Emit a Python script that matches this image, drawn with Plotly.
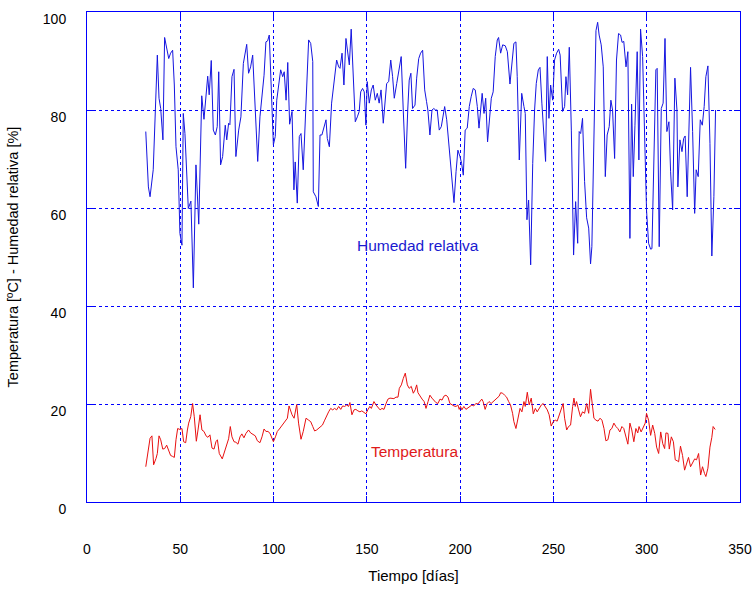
import plotly.graph_objects as go

# Relative humidity (%) vs day
hum_day = [31.5, 32.9, 33.8, 35.5, 37.7, 38.6, 39.5, 40.7, 41.6, 42.7, 43.8, 44.8, 45.9, 46.8, 47.7, 48.9, 49.8, 50.9,
           51.6, 52.5, 54.3, 55.7, 57.0, 58.4, 59.9, 61.5, 62.7, 64.7, 65.5, 66.6, 67.7, 68.8, 69.8, 70.6, 71.6, 72.7,
           74.1, 74.9, 75.9, 76.6, 77.7, 78.8, 79.8, 81.3, 82.5, 83.8, 85.6, 86.6, 87.7, 88.8, 89.9, 91.5, 92.7, 93.8,
           94.9, 95.9, 96.8, 97.7, 99.0, 99.9, 100.9, 101.7, 103.8, 104.9, 105.7, 106.7, 107.6, 108.6, 109.9, 110.9,
           111.6, 112.7, 113.8, 114.7, 115.9, 117.4, 118.8, 119.9, 121.0, 121.3, 122.7, 124.0, 124.9, 125.9, 126.6,
           128.1, 128.8, 129.9, 131.1, 132.4, 133.8, 134.9, 135.6, 136.7, 137.7, 138.8, 139.9, 140.6, 141.6, 142.7,
           143.8, 144.9, 145.9, 146.7, 147.7, 148.6, 149.5, 150.2, 151.3, 152.4, 153.4, 154.5, 155.6, 156.6, 157.6,
           158.8, 159.9, 160.6, 161.7, 162.8, 163.8, 164.7, 166.0, 167.0, 168.4, 169.5, 170.8, 171.9, 172.7, 173.6,
           174.5, 175.8, 176.7, 177.8, 178.8, 179.9, 181.0, 182.0, 182.7, 183.8, 184.9, 185.9, 186.8, 187.7, 188.8,
           189.9, 190.9, 191.7, 192.8, 193.8, 194.9, 195.8, 196.7, 197.8, 198.8, 199.9, 200.8, 201.7, 202.7, 203.8,
           204.9, 205.9, 207.0, 208.1, 209.2, 210.1, 211.0, 211.8, 212.8, 213.7, 214.7, 215.8, 216.7, 217.7, 218.8,
           219.9, 220.6, 221.7, 222.8, 224.2, 225.3, 226.7, 227.8, 228.8, 229.9, 230.6, 231.7, 233.0, 234.2, 234.9,
           235.8, 236.7, 237.8, 238.9, 239.9, 240.8, 241.9, 242.8, 243.8, 244.7, 245.8, 246.7, 247.6, 248.5, 249.6,
           250.6, 251.7, 252.8, 253.6, 254.9, 256.0, 256.7, 257.6, 258.5, 259.6, 260.8, 261.9, 263.0, 263.8, 264.6,
           265.6, 266.7, 267.8, 268.9, 269.9, 270.6, 271.7, 272.8, 273.7, 274.5, 275.6, 276.7, 277.8, 278.8, 279.9,
           280.8, 281.7, 282.8, 283.8, 284.9, 286.0, 286.8, 287.7, 288.9, 289.9, 291.0, 291.9, 292.8, 293.7, 294.9,
           295.8, 296.7, 297.8, 298.9, 299.9, 301.0, 302.1, 302.8, 303.9, 304.9, 305.6, 306.7, 307.8, 308.8, 309.8,
           310.8, 311.9, 312.8, 313.9, 315.1, 316.2, 316.7, 317.8, 318.9, 319.8, 320.6, 321.7, 322.6, 323.5, 324.6,
           325.7, 326.5, 327.6, 328.7, 329.8, 330.8, 331.7, 332.8, 333.9, 334.9, 336.0, 336.9]
hum_val = [75.6, 64.3, 62.3, 67.8, 91.2, 82.4, 80.3, 73.9, 94.8, 92.9, 90.5, 91.6, 92.2, 85.1, 72.5, 67.8, 54.8, 52.4,
           79.3, 75.2, 59.9, 61.4, 43.7, 68.8, 56.7, 82.9, 78.1, 86.9, 83.1, 90.1, 75.9, 74.9, 76.6, 87.8, 68.8, 70.5,
           76.9, 73.9, 77.3, 77.0, 86.8, 88.3, 70.5, 75.9, 78.6, 89.5, 93.4, 87.5, 88.8, 91.2, 81.4, 69.5, 78.6, 83.1,
           87.1, 93.9, 94.1, 95.3, 83.1, 72.9, 74.6, 82.0, 88.2, 86.8, 87.8, 82.0, 89.7, 77.1, 79.7, 63.7,
           69.4, 61.0, 74.6, 75.2, 67.8, 83.4, 94.3, 93.6, 89.9, 63.3, 62.3, 60.3, 74.9, 74.9, 75.9,
           78.0, 74.2, 72.5, 81.4, 85.8, 90.2, 88.8, 88.5, 91.6, 85.1, 94.6, 90.9, 89.2, 96.5, 85.8,
           77.6, 78.6, 79.7, 83.7, 84.4, 83.7, 76.9, 85.8, 81.4, 84.1, 85.1, 82.0, 83.4, 81.4, 84.1,
           77.3, 82.0, 85.4, 85.8, 90.2, 86.8, 82.4, 85.4, 87.5, 90.9, 80.0, 68.1, 80.0, 86.1, 87.5,
           80.3, 81.0, 86.5, 90.5, 91.6, 92.2, 84.1, 81.7, 80.0, 74.9, 80.0, 80.3, 80.0, 80.0, 75.9,
           76.6, 79.0, 80.7, 78.0, 73.9, 69.1, 64.3, 61.1, 67.4, 71.8, 70.5, 69.1, 66.7, 75.9, 76.3,
           80.7, 82.7, 84.4, 84.1, 80.7, 76.3, 80.3, 83.4, 79.3, 82.4, 73.5, 79.3, 82.4, 83.7, 90.9,
           94.3, 94.8, 91.6, 93.3, 93.1, 91.9, 85.3, 89.5, 93.6, 93.9, 86.8, 69.8, 83.4, 80.7, 79.3,
           57.6, 61.6, 48.4, 69.1, 80.0, 85.4, 88.2, 88.7, 81.4, 76.6, 69.5, 90.9, 78.3, 85.1, 82.0,
           90.2, 91.6, 92.4, 91.2, 79.7, 80.7, 86.8, 83.1, 92.8, 75.9, 50.4, 61.3, 52.8, 75.6, 75.2,
           78.3, 65.4, 58.0, 55.9, 48.6, 52.1, 76.9, 96.2, 97.9, 95.3, 93.3, 88.8, 66.4, 74.9, 76.6,
           82.0, 80.0, 70.1, 90.2, 95.6, 95.3, 93.8, 94.0, 88.8, 91.9, 53.8, 81.2, 66.4, 76.9, 91.9,
           69.8, 96.5, 90.9, 75.9, 59.6, 52.8, 51.6, 51.7, 73.2, 88.2, 88.5, 52.1, 80.3, 81.4, 94.6,
           75.6, 77.6, 67.4, 59.6, 86.5, 80.0, 64.3, 73.9, 71.5, 74.2, 74.7, 62.3, 76.9, 88.7, 75.6,
           58.9, 67.8, 66.4, 78.0, 76.9, 80.7, 86.8, 89.0, 73.2, 50.2, 62.3, 80.0]

# Temperature (ºC) vs day
temp_day = [31.5, 32.9, 33.8, 34.8, 35.7, 37.0, 37.7, 38.6, 39.5, 40.6, 41.6, 42.7, 43.8, 44.8, 45.9, 46.8, 47.7, 48.6,
            49.8, 50.9, 51.8, 52.9, 53.8, 54.5, 55.6, 56.6, 57.5, 58.6, 59.5, 60.6, 61.6, 62.7, 63.8, 64.8, 65.9, 67.0,
            68.1, 69.1, 69.9, 70.9, 72.5, 73.8, 74.9, 75.9, 76.8, 77.7, 78.8, 79.8, 80.9, 82.0, 83.0, 84.1, 85.2, 86.6,
            87.7, 88.8, 90.2, 91.3, 92.7, 93.8, 94.9, 95.9, 97.0, 98.1, 99.0, 99.9, 101.0, 102.0, 103.1, 104.1, 105.2,
            106.3, 107.4, 108.3, 109.9, 111.0, 112.4, 113.4, 114.7, 115.9, 117.4, 118.8, 119.9, 121.0, 122.0, 123.1,
            124.1, 125.2, 126.2, 127.4, 128.5, 129.5, 130.6, 131.7, 132.7, 133.8, 134.9, 136.0, 137.0, 138.1, 139.2,
            140.2, 140.9, 142.0, 143.1, 144.1, 145.2, 146.3, 147.3, 148.4, 149.5, 150.5, 151.6, 152.4, 153.8, 154.9,
            156.0, 157.1, 158.1, 159.2, 160.3, 161.3, 162.4, 163.5, 164.5, 165.6, 166.7, 167.4, 168.5, 169.5, 170.6,
            171.7, 172.7, 173.8, 174.9, 175.9, 176.7, 177.4, 178.5, 179.6, 180.7, 181.7, 182.8, 183.8, 184.9, 186.0,
            187.0, 188.1, 189.2, 190.3, 191.3, 192.4, 193.5, 194.5, 195.6, 196.7, 197.8, 198.8, 199.5, 200.2, 200.9,
            202.0, 203.1, 204.1, 205.2, 206.3, 207.3, 208.4, 209.5, 210.5, 211.6, 212.3, 213.4, 214.5, 215.5, 216.6,
            217.7, 218.8, 219.8, 220.9, 221.7, 222.8, 223.8, 224.9, 226.0, 227.0, 228.1, 228.8, 229.9, 231.0, 232.1,
            233.1, 234.2, 234.9, 236.0, 237.0, 238.1, 239.2, 240.3, 241.3, 242.4, 243.5, 244.5, 245.6, 246.7, 247.7,
            248.8, 249.9, 251.0, 252.0, 253.1, 254.2, 255.2, 256.0, 257.1, 258.1, 259.2, 260.3, 261.0, 261.7, 262.4,
            263.5, 264.5, 265.6, 266.7, 267.8, 268.9, 269.9, 271.0, 271.7, 272.8, 273.9, 275.0, 276.0, 277.1, 278.1,
            279.2, 280.3, 281.3, 282.4, 283.5, 284.5, 285.6, 286.7, 287.7, 288.8, 289.9, 291.0, 292.0, 293.1, 294.2,
            295.2, 295.9, 297.0, 298.1, 299.2, 299.9, 301.0, 302.1, 303.2, 304.3, 305.3, 306.4, 307.5, 308.6, 309.6,
            310.3, 311.4, 312.1, 313.2, 314.3, 315.3, 316.4, 317.1, 318.1, 319.2, 320.3, 321.4, 322.4, 323.5, 324.6,
            325.7, 326.7, 327.8, 328.9, 329.9, 331.0, 331.7, 332.8, 333.9, 334.9, 335.6, 336.7]
temp_val = [7.2, 11.0, 13.0, 13.5, 7.6, 8.9, 9.9, 13.5, 12.7, 10.8, 10.9, 11.6, 10.3, 9.5, 9.3, 9.1, 12.7, 15.0,
            14.8, 15.0, 12.3, 12.1, 14.7, 16.1, 17.4, 20.1, 17.4, 12.4, 14.7, 17.8, 14.7, 14.4, 13.5, 13.2, 13.7, 11.0,
            10.8, 12.3, 12.7, 9.9, 8.8, 10.3, 11.6, 12.9, 15.4, 13.3, 12.3, 12.2, 11.8, 13.3, 13.9, 13.1, 14.0, 14.7,
            14.1, 13.9, 13.5, 12.5, 12.1, 13.3, 14.9, 14.4, 14.4, 14.0, 13.2, 12.3, 13.3, 14.4, 14.9, 15.4, 16.1,
            16.6, 17.1, 19.6, 17.8, 17.1, 19.9, 16.1, 12.8, 14.4, 17.1, 16.7, 16.4, 15.4, 14.5, 14.7,
            15.0, 15.4, 15.7, 16.7, 17.8, 18.4, 19.1, 18.8, 19.1, 18.8, 19.5, 18.9, 19.6, 19.5, 19.8,
            19.5, 20.3, 17.8, 18.8, 18.9, 18.6, 18.4, 18.6, 18.2, 18.0, 18.8, 19.5, 19.1, 20.5, 19.8,
            19.3, 18.8, 19.1, 18.9, 20.1, 21.0, 21.2, 21.2, 21.1, 21.4, 21.4, 23.2, 23.9, 25.2, 26.3,
            23.9, 23.2, 23.6, 22.2, 22.9, 23.9, 22.3, 21.5, 21.0, 20.5, 19.1, 20.5, 21.8, 21.2, 20.7,
            20.3, 20.1, 21.0, 20.8, 21.6, 21.8, 21.4, 20.1, 19.8, 19.6, 19.5, 19.8, 18.9, 19.5, 18.8,
            19.5, 18.9, 19.2, 19.5, 19.8, 19.6, 20.1, 20.0, 20.5, 21.0, 20.5, 18.9, 20.1, 20.5, 20.1,
            20.5, 20.8, 21.2, 21.6, 22.3, 22.2, 21.8, 21.4, 20.5, 19.8, 18.1, 16.4, 15.0, 17.1, 19.1,
            18.4, 20.5, 19.5, 22.4, 19.8, 21.2, 18.0, 19.1, 18.4, 19.1, 19.8, 20.1, 19.5, 18.8, 17.8,
            15.5, 16.4, 16.7, 16.5, 17.8, 19.1, 20.1, 17.1, 14.7, 15.4, 15.7, 19.5, 21.2, 19.5, 20.5,
            18.8, 17.4, 18.4, 18.1, 20.1, 18.1, 23.0, 19.5, 17.1, 16.7, 16.5, 17.1, 16.7, 15.0, 12.5,
            12.7, 14.7, 15.0, 16.1, 15.4, 15.0, 14.3, 15.4, 15.0, 13.6, 11.8, 16.1, 14.7, 12.3, 15.0,
            14.1, 15.4, 14.3, 15.4, 16.1, 18.1, 16.7, 13.6, 15.7, 14.0, 11.2, 9.9, 14.3, 11.9, 10.9,
            14.1, 14.0, 10.8, 13.3, 12.3, 8.6, 8.4, 8.2, 11.4, 9.5, 6.5, 7.9, 9.1, 7.2, 7.9,
            8.8, 8.6, 9.9, 5.5, 7.2, 5.8, 5.2, 6.9, 11.2, 13.2, 15.4, 14.8]

x_ticks = [0, 50, 100, 150, 200, 250, 300, 350]
y_ticks = [0, 20, 40, 60, 80, 100]

BLUE = "#0000ff"
FONT = "Liberation Sans, Arial, sans-serif"

fig = go.Figure()
fig.add_trace(go.Scatter(x=hum_day, y=hum_val, mode="lines", line=dict(color="#1515e0", width=1),
                         name="Humedad relativa", showlegend=False))
fig.add_trace(go.Scatter(x=temp_day, y=temp_val, mode="lines", line=dict(color="#e81010", width=1),
                         name="Temperatura", showlegend=False))

fig.add_annotation(x=177.4, y=52.4, text="Humedad relativa", showarrow=False,
                   font=dict(family=FONT, size=15.5, color="#1a1ad0"))
fig.add_annotation(x=175.8, y=10.4, text="Temperatura", showarrow=False,
                   font=dict(family=FONT, size=15.5, color="#e01a1a"))

axis_common = dict(showline=True, linecolor=BLUE, linewidth=1, mirror="ticks",
                   ticks="inside", ticklen=6, tickcolor=BLUE, tickwidth=1,
                   showgrid=True, gridcolor=BLUE, griddash="dot", gridwidth=1,
                   zeroline=False, automargin=False,
                   tickfont=dict(family=FONT, size=14, color="black"))

fig.update_layout(
    width=756, height=590,
    margin=dict(l=87, r=16, t=12, b=88),
    paper_bgcolor="white", plot_bgcolor="white",
    font=dict(family=FONT, size=14, color="black"),
    xaxis=dict(range=[0, 350], tickvals=x_ticks, ticklabelstandoff=34,
               title=dict(text="Tiempo [días]", standoff=14, font=dict(family=FONT, size=15)),
               **axis_common),
    yaxis=dict(range=[0, 100], tickvals=y_ticks, ticklabelstandoff=17, ticklabelshift=7,
               title=dict(text="Temperatura [ºC] - Humedad relativa [%]", standoff=20,
                          font=dict(family=FONT, size=14.5)),
               **axis_common),
)

fig.write_html("out.html")
